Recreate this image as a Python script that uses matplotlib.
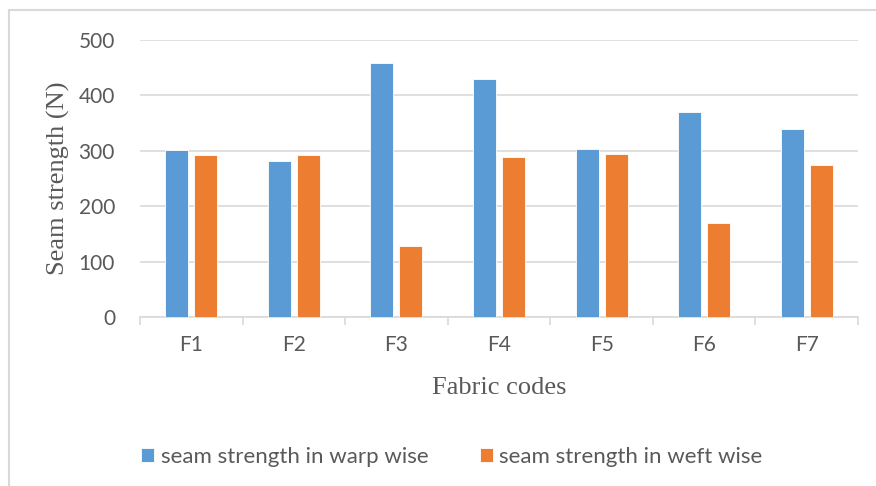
import matplotlib.pyplot as plt
import numpy as np
from matplotlib.patches import Rectangle

codes = ['F1', 'F2', 'F3', 'F4', 'F5', 'F6', 'F7']
warp = [301, 282, 459, 430, 303, 370, 340]
weft = [292, 292, 128, 289, 294, 169, 274]

blue = '#5b9bd5'
orange = '#ed7d31'
grey = '#595959'

fig = plt.figure(figsize=(8.76, 4.86), dpi=100)
W, H = 876, 486
ax = fig.add_axes([140 / W, 1 - 317 / H, 718 / W, 277 / H])

x = np.arange(len(codes))
bw = 0.224
ax.bar(x - 0.141, warp, bw, color=blue, edgecolor='white', linewidth=0.6, label='seam strength in warp wise', zorder=3)
ax.bar(x + 0.141, weft, bw, color=orange, edgecolor='white', linewidth=0.6, label='seam strength in weft wise', zorder=3)

ax.set_xlim(-0.5, len(codes) - 0.5)
ax.set_ylim(0, 500)
ax.set_yticks(np.arange(0, 501, 100))
ax.yaxis.grid(True, color='#d9d9d9', linewidth=1.2, zorder=0)
ax.tick_params(axis='y', length=0, pad=18, labelsize=15, labelcolor=grey)
ax.set_xticks(x)
ax.set_xticklabels(codes)
ax.tick_params(axis='x', length=0, pad=13, labelsize=15, labelcolor=grey)
ax.set_xticks(np.arange(-0.5, len(codes), 1), minor=True)
ax.tick_params(axis='x', which='minor', length=6, color='#d9d9d9', width=1.2)
for lab in ax.get_xticklabels() + ax.get_yticklabels():
    lab.set_family('Lato')

for s in ['top', 'right', 'left']:
    ax.spines[s].set_visible(False)
ax.spines['bottom'].set_color('#d9d9d9')
ax.spines['bottom'].set_linewidth(1.2)

ax.set_xlabel('Fabric codes', family='Liberation Serif', fontsize=19, color=grey, labelpad=16)
ax.set_ylabel('Seam strength (N)', family='Liberation Serif', fontsize=19, color=grey, labelpad=6)

leg = fig.legend(loc='center', bbox_to_anchor=(452 / W, 1 - 457 / H), ncol=2, frameon=False,
                 handlelength=0.58, handleheight=0.58, handletextpad=0.3, columnspacing=2.3,
                 prop={'family': 'Lato', 'size': 16})
for t in leg.get_texts():
    t.set_color(grey)

# outer chart border
fig.patches.append(Rectangle((9 / W, -0.1), 1.0, 1 - 10 / H + 0.1, transform=fig.transFigure,
                             fill=False, edgecolor='#d9d9d9', linewidth=1.5))

fig.savefig('out.png', dpi=100, facecolor='white')
